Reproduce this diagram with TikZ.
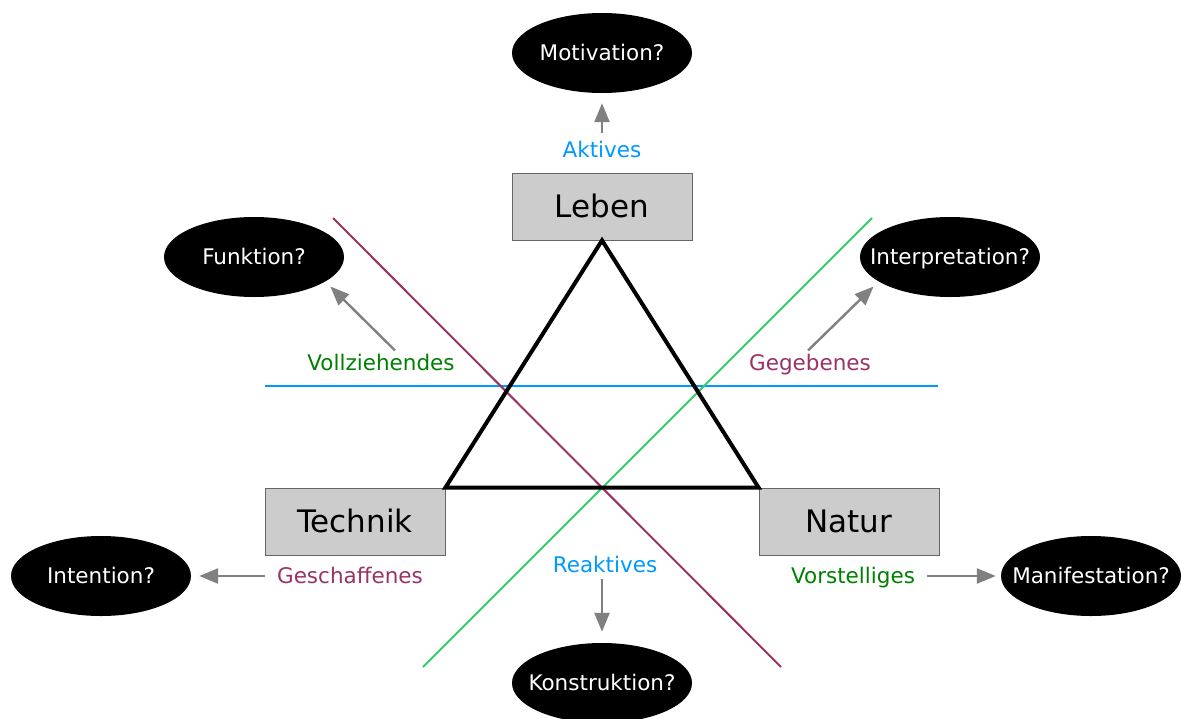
\documentclass[tikz,border=0pt]{standalone}
\usepackage{fontspec}
\setmainfont{DejaVu Sans}
\usetikzlibrary{arrows.meta,shapes.geometric}

\begin{document}
\begin{tikzpicture}[x=1pt,y=-1pt,font=\fontsize{21.5}{25}\selectfont,
  box/.style={draw=black!60,line width=.8pt,fill=black!20,minimum width=180pt,minimum height=67pt,
    text height=22.6pt,text depth=0pt,font=\fontsize{31}{36}\selectfont},
  quest/.style={ellipse,fill=black,text=white,minimum width=180pt,minimum height=80pt,
    inner xsep=-20pt,inner ysep=0pt,text height=15.7pt,text depth=0pt},
  arr/.style={-{Triangle[length=19pt,width=15pt]},line width=2.4pt,draw=black!50},
  lbl/.style={anchor=base,inner sep=3pt},
  sep/.style={line width=2pt}]
\definecolor{lblue}{HTML}{0099FF}
\definecolor{purp}{HTML}{993366}
\definecolor{dgreen}{HTML}{008000}
\definecolor{lgreen}{HTML}{33CC66}
\useasboundingbox (0,0) rectangle (1182,718);
% separating lines
\draw[sep,draw=lblue] (265,386) -- (938,386);
\draw[sep,draw=purp] (333,218) -- (781,667);
\draw[sep,draw=lgreen] (872,218) -- (423,667);
% the three realms
\node[box] (leben) at (602,206.5) {Leben};
\node[box] (technik) at (355,521.5) {Technik};
\node[box] (natur) at (849,521.5) {Natur};
\draw[line width=4pt] (leben.south) -- (natur.north west) -- (technik.north east) -- cycle;
% questions
\node[quest] (motiv) at (602,53) {Motivation?};
\node[quest] (funkt) at (254,257) {Funktion?};
\node[quest] (interp) at (950,257) {Interpretation?};
\node[quest] (intent) at (101,576) {Intention?};
\node[quest] (manif) at (1091,576) {Manifestation?};
\node[quest] (konstr) at (602,683) {Konstruktion?};
% labels
\node[lbl,text=lblue] (aktiv) at (602,157) {Aktives};
\node[lbl,text=dgreen] (vollz) at (381,370) {Vollziehendes};
\node[lbl,text=purp] (gegeb) at (810,370) {Gegebenes};
\node[lbl,text=purp] (gesch) at (350,583) {Geschaffenes};
\node[lbl,text=dgreen] (vorst) at (853,583) {Vorstelliges};
\node[lbl,text=lblue] (reakt) at (605,572) {Reaktives};
% arrows
\draw[arr,shorten <=4pt,shorten >=10pt] (aktiv.north) -- (motiv.south);
\draw[arr,shorten >=7pt] ([xshift=14pt]vollz.north) -- (funkt.-19);
\draw[arr,shorten >=7pt] ([xshift=-2pt]gegeb.north) -- (interp.-161);
\draw[arr,shorten <=9pt,shorten >=8pt] (intent.east -| gesch.west) -- (intent.east);
\draw[arr,shorten <=9pt,shorten >=5pt] (manif.west -| vorst.east) -- (manif.west);
\draw[arr,shorten <=3pt,shorten >=11pt] (reakt.south -| konstr.north) -- (konstr.north);
\end{tikzpicture}
\end{document}
